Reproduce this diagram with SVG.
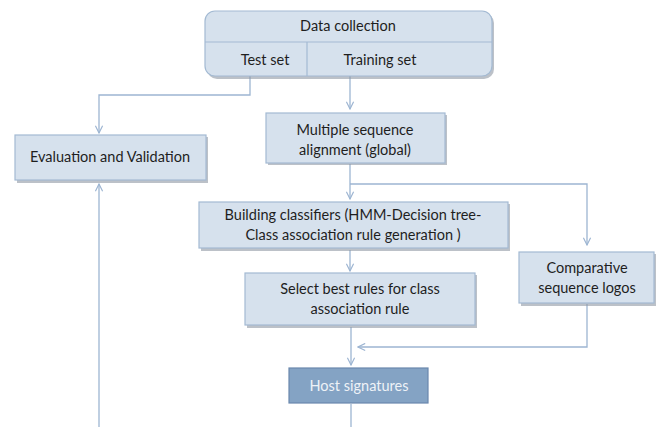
<svg xmlns="http://www.w3.org/2000/svg" width="660" height="427" viewBox="0 0 660 427">
<defs>
<style>
.box{fill:#d6e1ed;stroke:#a3bad3;stroke-width:1.2}
.host{fill:#84a3c4;stroke:#6a88ad;stroke-width:1.2}
.sh{fill:#8f98a3;opacity:0.6}
.t{font-family:Lato,"Open Sans","Liberation Sans",sans-serif;font-size:14.5px;fill:#1e1e1e;text-anchor:middle}
.tw{font-family:Lato,"Open Sans","Liberation Sans",sans-serif;font-size:14.5px;fill:#eef2f7;text-anchor:middle}
.c{fill:none;stroke:#9db5d2;stroke-width:1.3}
</style>
<marker id="ah" viewBox="0 0 10 10" refX="9" refY="5" markerWidth="9" markerHeight="9" orient="auto" markerUnits="userSpaceOnUse">
<path d="M1,1 L9,5 L1,9" fill="none" stroke="#9db5d2" stroke-width="1.3"/>
</marker>
</defs>
<rect width="660" height="427" fill="#ffffff"/>
<g id="connectors">
<path class="c" d="M250,76 V95 H99 V133" marker-end="url(#ah)"/>
<path class="c" d="M99,427 V184" marker-end="url(#ah)"/>
<path class="c" d="M350,76 V109" marker-end="url(#ah)"/>
<path class="c" d="M350,164 V199" marker-end="url(#ah)"/>
<path class="c" d="M350,184 H587 V245" marker-end="url(#ah)"/>
<path class="c" d="M350,250 V271" marker-end="url(#ah)"/>
<path class="c" d="M351,327 V365" marker-end="url(#ah)"/>
<path class="c" d="M587,304 V347 H358" marker-end="url(#ah)"/>
<path class="c" d="M351,404 V427"/>
</g>
<g id="data-collection">
<rect class="sh" x="207" y="13" width="287" height="66" rx="10"/>
<rect class="box" x="205" y="11" width="287" height="65" rx="10"/>
<line x1="205" y1="42" x2="492" y2="42" stroke="#a3bad3" stroke-width="1.2"/>
<line x1="307" y1="42" x2="307" y2="76" stroke="#a3bad3" stroke-width="1.2"/>
<text class="t" x="348" y="31">Data collection</text>
<text class="t" x="265" y="65">Test set</text>
<text class="t" x="380" y="65">Training set</text>
</g>
<g id="evaluation">
<rect class="sh" x="17" y="137" width="191" height="46"/>
<rect class="box" x="15" y="135" width="191" height="45"/>
<text class="t" x="110" y="162">Evaluation and  Validation</text>
</g>
<g id="msa">
<rect class="sh" x="268" y="115" width="179" height="50"/>
<rect class="box" x="266" y="113" width="179" height="50"/>
<text class="t" x="355" y="135">Multiple sequence</text>
<text class="t" x="355" y="155">alignment (global)</text>
</g>
<g id="building-classifiers">
<rect class="sh" x="201" y="204" width="309" height="47"/>
<rect class="box" x="199" y="202" width="309" height="46"/>
<text class="t" x="353" y="220">Building classifiers (HMM-Decision tree-</text>
<text class="t" x="353" y="240">Class association rule generation )</text>
</g>
<g id="select-best">
<rect class="sh" x="247" y="275" width="230" height="53"/>
<rect class="box" x="245" y="273" width="230" height="52"/>
<text class="t" x="360" y="294">Select best rules for class</text>
<text class="t" x="360" y="314">association rule</text>
</g>
<g id="comparative">
<rect class="sh" x="521" y="254" width="135" height="52"/>
<rect class="box" x="519" y="252" width="135" height="51"/>
<text class="t" x="587" y="273">Comparative</text>
<text class="t" x="587" y="293">sequence logos</text>
</g>
<g id="host-signatures">
<rect class="host" x="289" y="368" width="139" height="35"/>
<text class="tw" x="359" y="391">Host signatures</text>
</g>
</svg>
